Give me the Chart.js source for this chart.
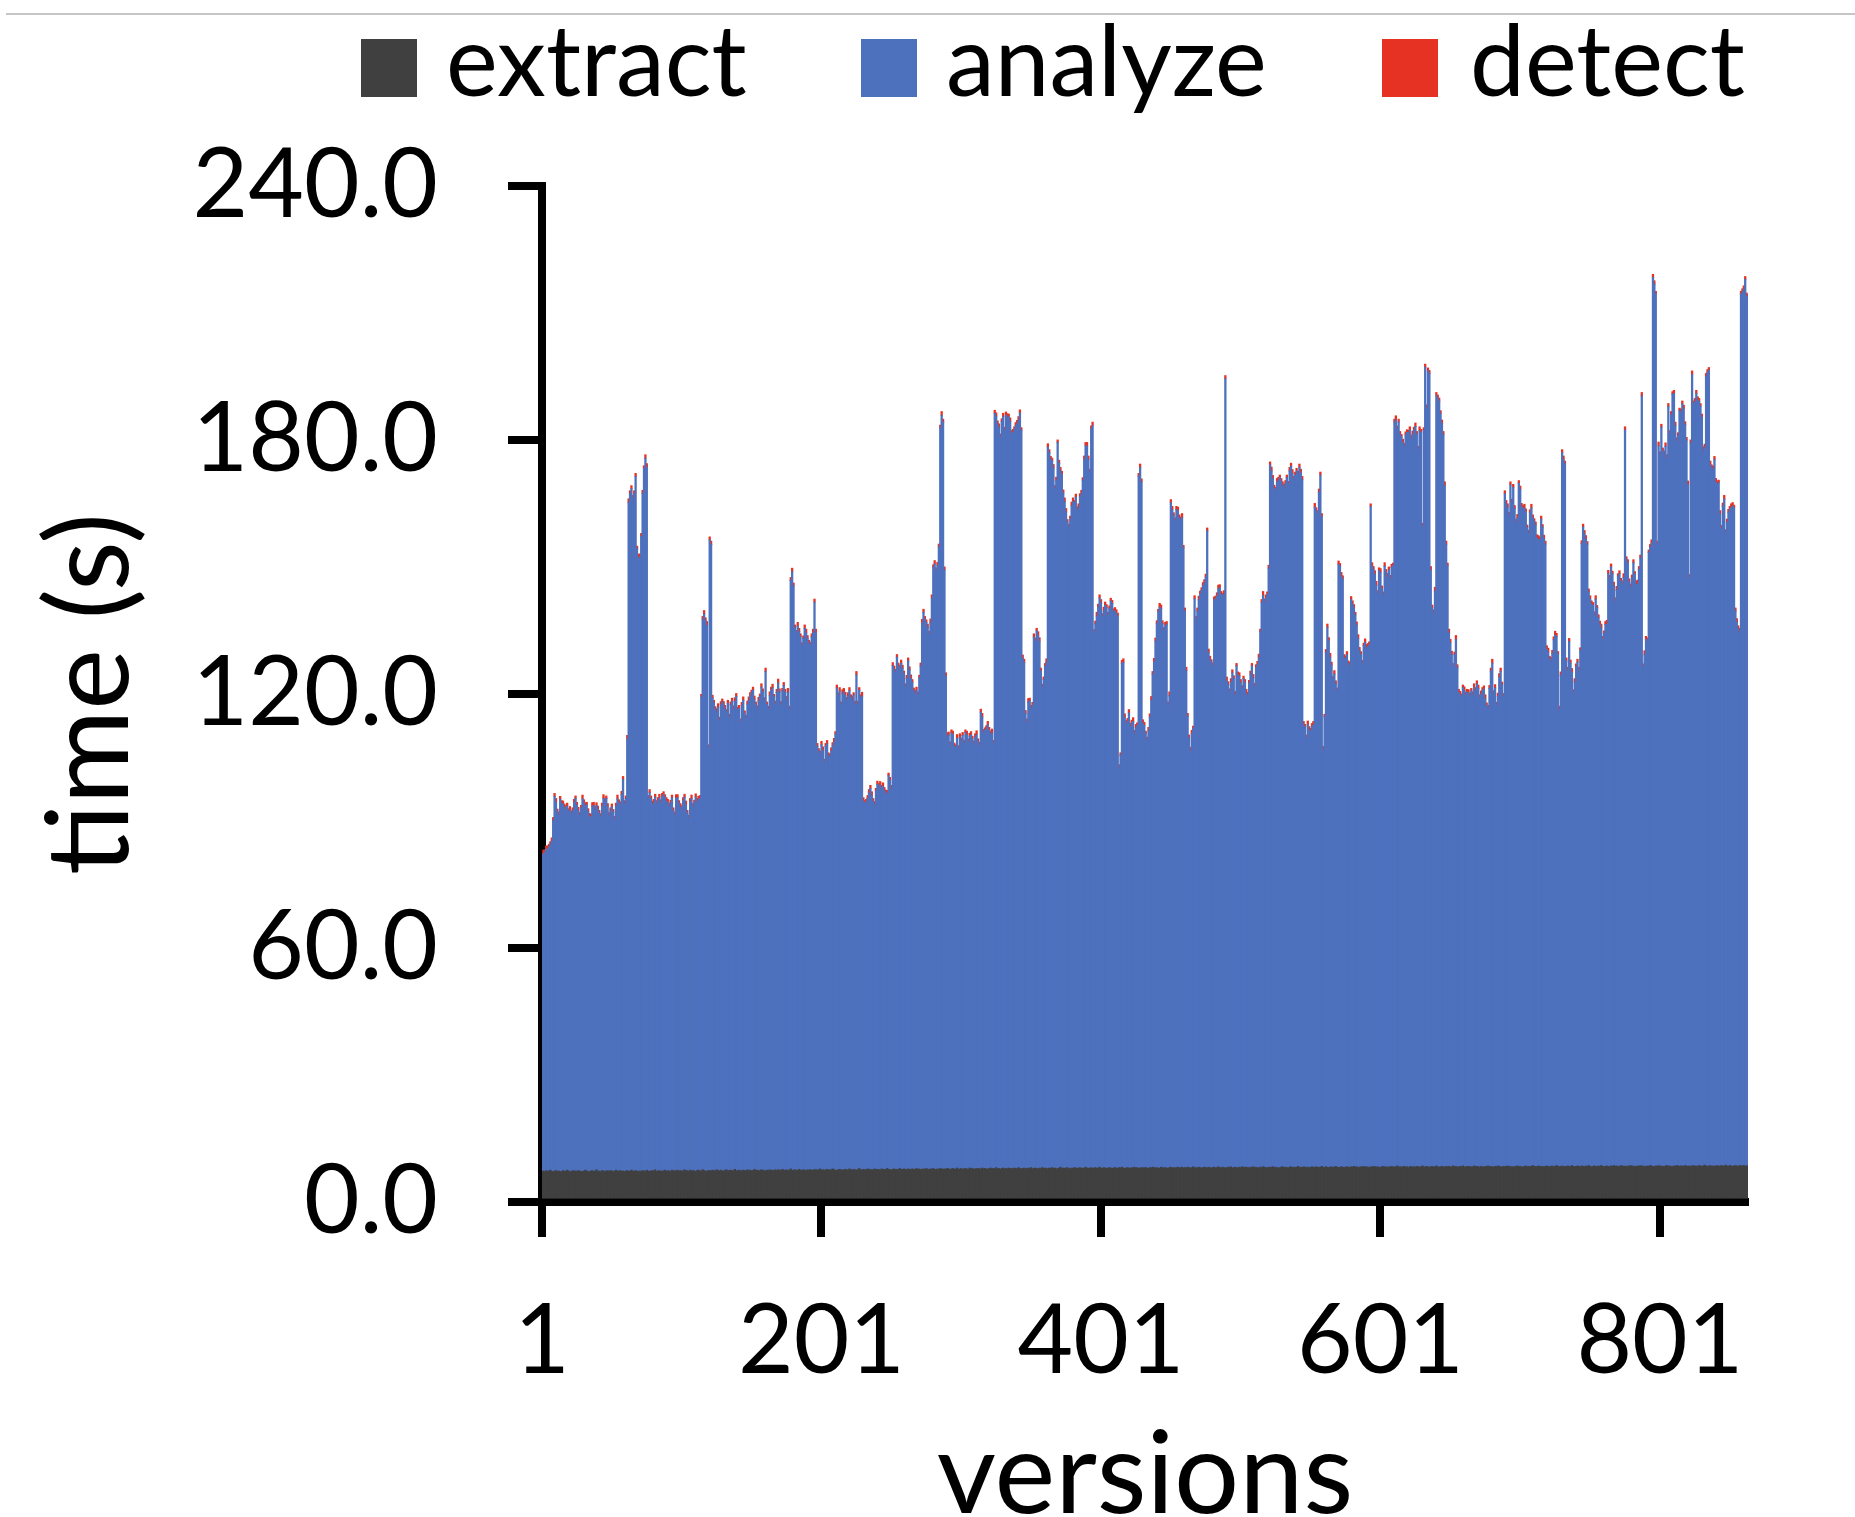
<!DOCTYPE html>
<html>
<head>
<meta charset="utf-8">
<title>time per version</title>
<script src="https://cdn.jsdelivr.net/npm/chart.js@4.4.1/dist/chart.umd.min.js"></script>
<style>
  html, body { margin:0; padding:0; background:#fff; }
  #wrap { position:relative; width:1855px; height:1517px; overflow:hidden; background:#fff; }
  #topRule { position:absolute; left:6px; right:0; top:13px; height:2px; background:#c6c6c6; }
  #chart { position:absolute; left:0; top:0; }
</style>
</head>
<body>
<div id="wrap"><div id="topRule"></div><canvas id="chart" width="1855" height="1517" style="width:1855px;height:1517px"></canvas></div>
<script>
const seriesNames = ['extract', 'analyze', 'detect'];
const xTickLabels = ['1', '201', '401', '601', '801'];
const yTickValues = [0, 60, 120, 180, 240];
const xTitle = 'versions';
const yTitle = 'time (s)';

const extract = [
7.2,7.3,7.1,7.4,7.2,7.3,7.5,7.2,7.1,7.3,7.4,7.2,7.3,7.1,7.2,7.4,7.3,7.2,7.5,7.3,7.1,7.2,7.4,7.3,
7.3,7.2,7.4,7.3,7.1,7.2,7.3,7.5,7.3,7.2,7.1,7.3,7.4,7.2,7.3,7.6,7.2,7.3,7.1,7.4,7.3,7.2,7.3,7.4,
7.2,7.4,7.3,7.1,7.3,7.5,7.2,7.3,7.4,7.2,7.3,7.1,7.3,7.4,7.2,7.3,7.5,7.3,7.2,7.4,7.3,7.1,7.3,7.2,
7.4,7.3,7.2,7.5,7.3,7.2,7.3,7.4,7.3,7.6,7.2,7.3,7.4,7.2,7.3,7.3,7.5,7.2,7.4,7.3,7.2,7.5,7.3,7.4,
7.3,7.5,7.2,7.4,7.3,7.3,7.6,7.3,7.4,7.2,7.5,7.3,7.4,7.3,7.2,7.4,7.5,7.3,7.3,7.6,7.4,7.3,7.2,7.4,
7.4,7.3,7.5,7.4,7.3,7.6,7.4,7.3,7.5,7.2,7.4,7.4,7.6,7.3,7.4,7.5,7.3,7.4,7.7,7.4,7.3,7.5,7.4,7.3,
7.5,7.4,7.3,7.6,7.4,7.5,7.3,7.4,7.7,7.4,7.5,7.3,7.4,7.6,7.5,7.4,7.3,7.5,7.4,7.6,7.4,7.5,7.3,7.6,
7.4,7.6,7.5,7.4,7.7,7.5,7.4,7.6,7.4,7.5,7.8,7.4,7.5,7.6,7.4,7.5,7.7,7.5,7.4,7.6,7.5,7.4,7.6,7.5,
7.6,7.5,7.4,7.7,7.5,7.6,7.5,7.8,7.5,7.6,7.4,7.6,7.7,7.5,7.6,7.5,7.8,7.6,7.5,7.4,7.6,7.7,7.5,7.6,
7.5,7.7,7.6,7.5,7.8,7.6,7.5,7.7,7.6,7.5,7.6,7.9,7.6,7.5,7.7,7.6,7.5,7.8,7.6,7.7,7.5,7.6,7.8,7.6,
7.7,7.6,7.5,7.8,7.6,7.7,7.6,7.9,7.7,7.6,7.5,7.7,7.8,7.6,7.7,7.6,7.9,7.7,7.6,7.8,7.7,7.6,7.8,7.7,
7.6,7.8,7.7,7.6,7.9,7.7,7.8,7.6,7.7,7.8,7.6,7.9,7.7,7.6,7.8,7.7,7.9,7.7,7.6,7.8,7.7,7.9,7.8,7.7,
7.8,7.7,7.9,7.8,7.6,7.8,7.9,7.7,7.8,8.0,7.7,7.8,7.9,7.7,7.8,7.9,7.8,7.7,8.0,7.8,7.9,7.7,7.8,7.9,
7.8,7.9,7.7,8.0,7.8,7.9,7.8,7.7,7.9,8.0,7.8,7.9,7.8,8.1,7.8,7.9,7.7,7.9,8.0,7.8,7.9,7.8,8.0,7.9,
7.9,7.8,8.0,7.9,7.8,8.1,7.9,7.8,7.9,8.0,7.9,7.8,8.0,7.9,8.1,7.8,7.9,8.0,7.9,7.8,8.0,7.9,8.1,7.9,
8.0,7.9,7.8,8.0,7.9,8.1,7.9,8.0,7.8,7.9,8.0,8.2,7.9,8.0,7.9,8.0,8.1,7.9,7.8,8.0,7.9,8.1,8.0,7.9,
8.0,8.1,7.9,8.0,7.9,8.2,8.0,7.9,8.0,8.1,7.9,8.0,8.1,7.9,8.0,8.2,8.0,7.9,8.1,8.0,7.9,8.0,8.1,8.0,
7.9,8.0,8.1,8.0,7.9,8.1,8.0,8.2,8.0,7.9,8.0,8.1,8.0,7.9,8.1,8.0,8.2,8.0,8.1,7.9,8.0,8.1,8.0,8.1,
8.1,8.0,7.9,8.1,8.0,8.2,8.1,8.0,8.1,7.9,8.0,8.2,8.1,8.0,8.1,8.0,7.9,8.1,8.2,8.0,8.1,8.0,8.1,8.2,
8.0,8.1,8.2,8.0,8.1,8.0,8.2,8.1,8.0,8.1,8.3,8.0,8.1,8.0,8.2,8.1,8.0,8.1,8.2,8.1,8.0,8.2,8.1,8.0,
8.1,8.2,8.0,8.1,8.3,8.1,8.0,8.2,8.1,8.0,8.1,8.2,8.1,8.3,8.0,8.1,8.2,8.1,8.0,8.2,8.1,8.3,8.1,8.2,
8.2,8.1,8.0,8.2,8.1,8.3,8.1,8.2,8.0,8.1,8.2,8.1,8.3,8.2,8.1,8.0,8.2,8.1,8.2,8.3,8.1,8.2,8.1,8.0,
8.1,8.2,8.3,8.1,8.2,8.1,8.0,8.2,8.3,8.1,8.2,8.1,8.2,8.4,8.1,8.2,8.1,8.3,8.2,8.1,8.2,8.0,8.2,8.3,
8.2,8.1,8.3,8.2,8.1,8.2,8.4,8.2,8.1,8.3,8.2,8.1,8.2,8.3,8.1,8.2,8.4,8.2,8.1,8.2,8.3,8.2,8.1,8.2,
8.3,8.2,8.1,8.3,8.2,8.4,8.2,8.3,8.1,8.2,8.3,8.2,8.4,8.2,8.3,8.2,8.1,8.3,8.2,8.4,8.3,8.2,8.3,8.1,
8.2,8.3,8.4,8.2,8.3,8.1,8.3,8.2,8.4,8.3,8.2,8.3,8.5,8.2,8.3,8.2,8.3,8.4,8.2,8.3,8.1,8.3,8.4,8.2,
8.3,8.2,8.4,8.3,8.2,8.3,8.5,8.3,8.2,8.4,8.3,8.2,8.3,8.4,8.2,8.3,8.5,8.3,8.2,8.3,8.4,8.3,8.2,8.4,
8.3,8.4,8.2,8.3,8.5,8.3,8.4,8.2,8.3,8.4,8.3,8.5,8.3,8.2,8.4,8.3,8.4,8.2,8.3,8.5,8.3,8.4,8.3,8.2,
8.4,8.3,8.2,8.4,8.3,8.5,8.3,8.4,8.3,8.2,8.4,8.3,8.5,8.4,8.3,8.2,8.4,8.3,8.4,8.5,8.3,8.4,8.2,8.3,
8.3,8.4,8.5,8.3,8.4,8.3,8.2,8.4,8.5,8.3,8.4,8.3,8.4,8.6,8.3,8.4,8.3,8.5,8.4,8.3,8.4,8.2,8.4,8.5,
8.4,8.3,8.4,8.5,8.3,8.4,8.6,8.4,8.3,8.4,8.5,8.3,8.4,8.3,8.5,8.4,8.3,8.6,8.4,8.3,8.4,8.5,8.4,8.3,
8.5,8.4,8.3,8.5,8.4,8.6,8.4,8.3,8.4,8.5,8.4,8.3,8.5,8.4,8.6,8.4,8.3,8.4,8.5,8.4,8.3,8.5,8.4,8.6,
8.4,8.5,8.3,8.4,8.6,8.4,8.5,8.4,8.3,8.5,8.4,8.6,8.4,8.5,8.3,8.4,8.5,8.4,8.6,8.4,8.5,8.3,8.4,8.5,
8.4,8.6,8.5,8.4,8.3,8.5,8.4,8.6,8.4,8.5,8.4,8.3,8.5,8.6,8.4,8.5,8.4,8.3,8.5,8.4,8.6,8.5,8.4,8.5,
8.5,8.4,8.6,8.5,8.4,8.5,8.3,8.5,8.6,8.4,8.5,8.4,8.6,8.5,8.4,8.5,8.7,8.5,8.4,8.5,8.6,8.4,8.5,8.4,
8.5,8.6,8.4,8.5,8.6,8.4,8.5,8.7,8.5,8.4,8.6,8.5,8.4,8.5,8.6,8.5,8.4,8.6,8.5,8.5,8.6,8.4,8.5,8.6
];

const analyze = [
74.5,75,75.5,76,76,76.5,77,78,83,88.5,
87,85,84,88,87,86.5,86,85.5,86,85,
85.5,84.5,85,87,88,86.5,85,84,86,88,
87,86,86.5,85,84,83.5,86,86.5,85.5,86,
85.5,84.5,84,86,88,87.5,88,86,84,85,
86,85,83,86,88,87,86.5,89,92.5,87,
88,102,158,160,161,159,160,164,147,145,
145,150,160,166,168.5,166,88,89.5,88,86.5,
87,88,87,87.5,88,87,88.5,89,88,87.5,
87,86,87,88,85,84,88,88,87,86,
85.5,87.5,88,86.5,84.5,83.5,87,88,86,87,
88.5,87,87.5,88,112,130,131.5,130,129,100,
149,148,111.5,110.5,109,108,109.5,106.5,110,111,
110,109,108,110.5,107,110,111,109,110.5,112,
109,109,106,110,111,108,107,110,111,112,
113,113.5,111,110,109,111,112,114,113,111,
118,110,109,112,113.5,114,112,110,113,115,
113,110,113,114.5,113,111,113,109,139,141.5,
138,128,127,128.5,127,126,124,125.5,128,127,
125.5,124.5,124,126,127,134,127,100,99,98,
100.5,99,96.5,100,100.5,98,97.5,99,100,101,
103,114,112,113,110,112.5,113,112,111,112,
113,111.5,111,112,110,117,110,113,111.5,112,
87,86.5,87,87.5,89,90,88.5,87,86,89.5,
91,90.5,91,90,90.5,89.5,89,88.5,93,92,
90,119,118,117.5,121,119,118,119.5,118.5,117,
114,116,120,118,116,115,113,112.5,113,112,
116,119,129,131.5,130,129,128,126.5,129,135,
142,143,141.5,142.5,147,175,178,176.5,141.5,116.5,
102,102.5,100.5,103,102.5,100,99.5,101.5,99.5,102,
101,102.5,100.5,103,102.5,101,102,102.5,101.5,100.5,
102,102.5,101,100,108,106.5,103,103.5,104,105,
103.5,102.5,103,100.5,178.5,177.5,176,175,173,176.5,
177.5,174.5,178,177.5,177.5,176.5,173.5,174,174.5,175.5,
176,176.5,178.5,174.5,120.5,119.5,107.5,105.5,110,110.5,
108.5,109.5,125.5,124.5,127,126,124.5,117.5,113.5,115.5,
118.5,119.5,170.5,169,167.5,167,165.5,160.5,162.5,171.5,
166.5,164.5,164,159.5,157.5,155,152.5,151.5,153.5,156.5,
157.5,157,158.5,155.5,156,158.5,159.5,162.5,167.5,170.5,
170.5,167.5,164.5,174.5,175.5,126.5,128.5,130.5,132.5,134.5,
133.5,130.5,131.5,133,132.5,130.5,132,134,133.5,131.5,
131.5,131,130.5,94.5,97.5,119,119.5,106.5,105,105.5,
107.5,104.5,105,105.5,102.5,104,104.5,163.5,165.5,162,
105,104.5,102.5,101,103.5,106.5,110.5,116.5,119.5,124.5,
128.5,131.5,132.5,132,128.5,127,128,128.5,109.5,111.5,
157,155.5,154,153,155.5,155,153.5,153,153.5,146.5,
131.5,117.5,106.5,101.5,98.5,102.5,103.5,134.5,129.5,131.5,
134,135.5,136.5,137.5,138,139.5,150.5,121.5,120,119.5,
118.5,134,134.5,135,136.5,137,135.5,135,135.5,186.5,
115,114,112.5,114.5,117,115.5,111.5,118.5,116.5,116,
114.5,113,115.5,114.5,112,111.5,114.5,116.5,118.5,115.5,
113.5,118,119,120.5,126.5,133.5,135,133.5,134.5,135.5,
141.5,166,164.5,162.5,160.5,160,162,162.5,163,162,
161,160.5,161.5,163,161.5,164.5,165.5,164,162.5,163.5,
164.5,163.5,165.5,164,162.5,104.5,104,101.5,104.5,103.5,
103,104,104.5,156,155,154.5,159.5,163.5,153.5,98.5,
106.5,121.5,127.5,124.5,120.5,118.5,115.5,116.5,114,112.5,
142.5,142,139.5,139,120.5,120,121,119,118.5,134,
133,132,130.5,128,125,122,121,119,123,124,
122.5,123,123.5,156,142,141,140,137.5,135.5,141,
140.5,136.5,135,142,140.5,139.5,141,139,141.5,142,
176,176.5,174,176,173,172.5,171,170,173,173.5,
173.5,174,172,173,174,175,173,169.5,174,173.5,
151,174,189,179,188,187.5,141,132,131,136,
182,181.5,181,178,175.5,173,161,147,142,126,
124,121,118,121,124.5,118,112,111.5,111,113,
112.5,111.5,112,112,111,112.5,111.5,113,112.5,114,
113,111,111.5,112.5,113,110.5,109,108,113,117,
119,112,113,109,111,115.5,117,114,111,159,
156.5,155.5,154,161,157,160.5,155.5,152,153,161.5,
160,156,155.5,155.5,154.5,151,149.5,154.5,155.5,153,
152.5,151.5,148.5,148,148,153,151,148.5,147,122,
121.5,120,119.5,121,124.5,125.5,125,121,108,116,
168.5,167,166,119.5,117,124,119,116.5,112,114.5,
118,119,117,122,147,151,149.5,148,147,135.5,
134,133,132.5,130,134,132,129.5,128,127,124.5,
126,128,128,140,139,141.5,140,137,133.5,136,
139.5,140,138,137.5,139,174,143.5,142.5,138,136.5,
139,142.5,140,137.5,137.5,141,143.5,182,118,121,
124.5,124,145,146,147,210,208.5,206,147,170,
168,174.5,169,168.5,170,167,179.5,173,177.5,182.5,
182.5,175,171,172.5,178.5,178,180,179,175,171.5,
161,139,171,187,180,180.5,182.5,181,180.5,179.5,
177,169,169.5,186.5,187.5,188,165.5,165,164.5,167,
161.5,161,161.5,154,150.5,156,157.5,149.5,152,154.5,
155,155.5,156,155.5,131,128.5,127,126,206,206.5,
207,209.5,205.5,205
];

const detect = [
0.7,0.8,0.6,0.7,0.9,0.7,0.6,0.8,0.7,0.7,0.9,0.6,0.8,0.7,0.6,0.8,0.7,0.9,0.7,0.6,0.8,0.7,0.7,0.8,
0.6,0.7,0.8,0.7,0.6,0.9,0.7,0.8,0.6,0.7,0.7,0.8,0.9,0.7,0.6,0.7,0.8,0.7,0.6,0.8,0.9,0.7,0.6,0.7,
0.8,0.7,0.7,0.6,0.8,0.7,0.9,0.7,0.6,0.8,0.7,0.7,0.6,0.8,0.9,0.7,0.7,0.6,0.8,0.7,0.6,0.9,0.8,0.7,
0.7,0.6,0.8,0.9,0.7,0.7,0.6,0.8,0.8,0.7,0.6,0.7,0.9,0.8,0.7,0.6,0.7,0.8,0.7,0.9,0.7,0.6,0.8,0.7,
0.9,0.7,0.6,0.7,0.8,0.7,0.7,0.9,0.6,0.7,0.8,0.8,0.7,0.6,0.7,0.9,0.8,0.7,0.6,0.7,0.8,0.7,0.9,0.6,
0.7,0.8,0.7,0.6,0.7,0.9,0.8,0.7,0.7,0.6,0.8,0.9,0.7,0.7,0.8,0.6,0.7,0.8,0.9,0.7,0.6,0.8,0.7,0.7,
0.8,0.6,0.7,0.7,0.9,0.8,0.6,0.7,0.8,0.7,0.7,0.9,0.6,0.8,0.7,0.7,0.8,0.6,0.7,0.9,0.7,0.8,0.6,0.7,
0.7,0.9,0.7,0.8,0.6,0.7,0.7,0.8,0.9,0.6,0.7,0.8,0.7,0.7,0.6,0.9,0.8,0.7,0.7,0.6,0.8,0.9,0.7,0.7,
0.6,0.7,0.9,0.7,0.8,0.7,0.6,0.7,0.8,0.9,0.7,0.7,0.8,0.6,0.7,0.8,0.7,0.9,0.6,0.7,0.7,0.8,0.6,0.9,
0.8,0.7,0.6,0.8,0.7,0.7,0.9,0.6,0.7,0.8,0.7,0.6,0.7,0.9,0.8,0.7,0.6,0.7,0.8,0.7,0.9,0.7,0.8,0.6,
0.7,0.7,0.8,0.6,0.9,0.7,0.7,0.8,0.6,0.7,0.9,0.7,0.8,0.7,0.6,0.7,0.9,0.8,0.7,0.6,0.7,0.8,0.7,0.7,
0.9,0.6,0.7,0.8,0.7,0.8,0.6,0.7,0.9,0.7,0.7,0.6,0.8,0.7,0.9,0.7,0.6,0.8,0.7,0.8,0.7,0.6,0.9,0.7,
0.7,0.8,0.9,0.7,0.6,0.7,0.8,0.7,0.7,0.9,0.6,0.8,0.7,0.7,0.8,0.6,0.9,0.7,0.7,0.8,0.6,0.7,0.8,0.9,
0.6,0.7,0.7,0.9,0.8,0.6,0.7,0.8,0.7,0.7,0.9,0.6,0.7,0.8,0.7,0.9,0.7,0.6,0.8,0.7,0.7,0.9,0.6,0.8,
0.8,0.7,0.6,0.7,0.8,0.9,0.7,0.6,0.8,0.7,0.7,0.8,0.9,0.6,0.7,0.7,0.8,0.7,0.6,0.9,0.8,0.7,0.7,0.6,
0.7,0.9,0.8,0.7,0.7,0.6,0.8,0.7,0.9,0.6,0.7,0.8,0.7,0.7,0.9,0.8,0.6,0.7,0.7,0.8,0.9,0.6,0.7,0.8,
0.9,0.7,0.7,0.6,0.8,0.7,0.9,0.8,0.6,0.7,0.8,0.7,0.6,0.9,0.7,0.7,0.8,0.6,0.9,0.7,0.7,0.8,0.7,0.6,
0.7,0.6,0.8,0.9,0.7,0.7,0.6,0.7,0.8,0.9,0.7,0.6,0.8,0.7,0.7,0.9,0.7,0.8,0.6,0.7,0.8,0.7,0.9,0.7,
0.6,0.8,0.7,0.7,0.9,0.6,0.8,0.7,0.7,0.6,0.9,0.8,0.7,0.7,0.8,0.6,0.7,0.9,0.7,0.8,0.7,0.6,0.7,0.9,
0.8,0.7,0.9,0.6,0.7,0.8,0.7,0.7,0.9,0.8,0.6,0.7,0.7,0.8,0.9,0.7,0.6,0.7,0.8,0.7,0.7,0.9,0.8,0.6,
0.7,0.7,0.6,0.8,0.9,0.7,0.7,0.6,0.8,0.7,0.9,0.7,0.6,0.8,0.7,0.7,0.9,0.6,0.7,0.8,0.8,0.7,0.6,0.7,
0.9,0.8,0.7,0.7,0.6,0.8,0.9,0.7,0.7,0.8,0.6,0.7,0.9,0.7,0.8,0.6,0.7,0.7,0.9,0.8,0.7,0.6,0.8,0.7,
0.6,0.7,0.8,0.9,0.7,0.6,0.7,0.8,0.7,0.9,0.7,0.8,0.6,0.7,0.7,0.9,0.8,0.7,0.6,0.7,0.9,0.8,0.7,0.7,
0.8,0.9,0.7,0.6,0.8,0.7,0.7,0.9,0.6,0.7,0.8,0.7,0.9,0.7,0.6,0.8,0.7,0.7,0.8,0.6,0.9,0.7,0.7,0.8,
0.7,0.6,0.9,0.7,0.8,0.7,0.6,0.7,0.9,0.8,0.7,0.7,0.6,0.8,0.9,0.7,0.7,0.6,0.8,0.7,0.8,0.9,0.6,0.7,
0.9,0.7,0.7,0.8,0.6,0.9,0.7,0.8,0.7,0.6,0.7,0.9,0.8,0.7,0.7,0.6,0.9,0.8,0.7,0.6,0.7,0.8,0.7,0.9,
0.7,0.8,0.6,0.7,0.9,0.7,0.8,0.6,0.7,0.9,0.7,0.7,0.8,0.6,0.7,0.9,0.7,0.8,0.7,0.6,0.8,0.7,0.9,0.7,
0.6,0.9,0.7,0.8,0.7,0.6,0.9,0.7,0.8,0.7,0.7,0.6,0.9,0.8,0.7,0.7,0.8,0.6,0.7,0.9,0.7,0.7,0.8,0.6,
0.8,0.7,0.7,0.9,0.6,0.8,0.7,0.7,0.9,0.6,0.8,0.7,0.7,0.9,0.8,0.6,0.7,0.7,0.8,0.9,0.6,0.7,0.8,0.7,
0.7,0.8,0.9,0.6,0.7,0.7,0.8,0.9,0.7,0.6,0.8,0.7,0.9,0.7,0.6,0.7,0.8,0.9,0.7,0.7,0.6,0.8,0.7,0.9,
0.9,0.6,0.7,0.8,0.7,0.9,0.7,0.6,0.8,0.8,0.7,0.9,0.6,0.7,0.8,0.7,0.7,0.9,0.6,0.8,0.7,0.7,0.9,0.6,
0.7,0.7,0.8,0.9,0.6,0.7,0.8,0.7,0.7,0.9,0.8,0.6,0.7,0.8,0.9,0.7,0.6,0.7,0.9,0.8,0.7,0.7,0.6,0.8,
0.8,0.9,0.6,0.7,0.7,0.8,0.9,0.7,0.6,0.7,0.8,0.9,0.7,0.7,0.6,0.8,0.9,0.7,0.7,0.8,0.6,0.9,0.7,0.7,
0.6,0.7,0.9,0.7,0.8,0.6,0.7,0.9,0.8,0.7,0.7,0.6,0.8,0.9,0.7,0.7,0.8,0.6,0.7,0.8,0.9,0.7,0.6,0.8,
0.7,0.8,0.7,0.6,0.9,0.7,0.7,0.8,0.6,0.9,0.7,0.8,0.7,0.6,0.7,0.9,0.8,0.7,0.7,0.6,0.9,0.7,0.8,0.7,
0.9,0.7,0.6,0.8,0.7,0.7,0.9,0.6,0.8,0.7,0.7,0.9,0.8,0.6,0.7,0.8,0.7,0.9,0.6,0.7,0.8,0.7,0.7,0.8
];

const versions = analyze.map((_, i) => String(i + 1));
const seriesColors = ['#404040', '#4E71BE', '#E53222'];
const FONT = "Lato, 'Open Sans', 'DejaVu Sans', sans-serif";

// Legend drawn with canvas text (positions mirror the reference figure)
const legendLayout = { boxX: [361, 861, 1382], textX: [446, 946, 1470], boxY: 39, boxW: 56, boxH: 58, baseline: 96, size: 98 };
const staticLegend = {
  id: 'staticLegend',
  afterDraw(chart) {
    const ctx = chart.ctx;
    ctx.save();
    ctx.font = legendLayout.size + 'px ' + FONT;
    ctx.textBaseline = 'alphabetic';
    ctx.textAlign = 'left';
    chart.data.datasets.forEach((ds, i) => {
      ctx.fillStyle = ds.backgroundColor;
      ctx.fillRect(legendLayout.boxX[i], legendLayout.boxY, legendLayout.boxW, legendLayout.boxH);
      ctx.fillStyle = '#000';
      ctx.fillText(ds.label, legendLayout.textX[i], legendLayout.baseline);
    });
    ctx.restore();
  }
};

const chart = new Chart(document.getElementById('chart'), {
  type: 'bar',
  data: {
    labels: versions,
    datasets: [
      { label: seriesNames[0], data: extract, backgroundColor: seriesColors[0] },
      { label: seriesNames[1], data: analyze, backgroundColor: seriesColors[1] },
      { label: seriesNames[2], data: detect, backgroundColor: seriesColors[2] }
    ]
  },
  options: {
    responsive: false,
    animation: false,
    events: [],
    datasets: { bar: { barPercentage: 1, categoryPercentage: 1, borderWidth: 0, inflateAmount: 0.45 } },
    layout: { padding: { left: 0, right: 107, top: 186, bottom: 0 } },
    plugins: { legend: { display: false }, tooltip: { enabled: false } },
    scales: {
      x: {
        stacked: true,
        offset: false,
        grid: { display: true, offset: false, drawOnChartArea: false, drawTicks: true, tickLength: 35, lineWidth: 2, tickWidth: 8, tickColor: '#000', color: '#000' },
        border: { display: true, color: '#000', width: 8 },
        ticks: { autoSkip: false, maxRotation: 0, minRotation: 0, color: '#000', padding: 47, font: { family: FONT, size: 96 } },
        afterBuildTicks: (s) => { s.ticks = s.ticks.filter(t => xTickLabels.includes(versions[t.value])); },
        afterFit: (s) => { s.height = 315; },
        title: { display: true, text: xTitle, color: '#000', font: { family: FONT, size: 115, lineHeight: 0.72 }, padding: 0 }
      },
      y: {
        stacked: true,
        min: 0,
        max: 240,
        grid: { display: true, drawOnChartArea: false, drawTicks: true, tickLength: 34, lineWidth: 8, tickWidth: 8, tickColor: '#000', color: '#000' },
        border: { display: true, color: '#000', width: 8 },
        ticks: { color: '#000', padding: 70, font: { family: FONT, size: 96 }, callback: (v) => Number(v).toFixed(1) },
        afterBuildTicks: (s) => { s.ticks = yTickValues.map(v => ({ value: v })); },
        afterFit: (s) => { s.width = 542; },
        title: { display: true, text: yTitle, color: '#000', font: { family: FONT, size: 115, lineHeight: 1.2 }, padding: { top: 22, bottom: 0 } }
      }
    }
  },
  plugins: [staticLegend]
});
</script>
</body>
</html>
